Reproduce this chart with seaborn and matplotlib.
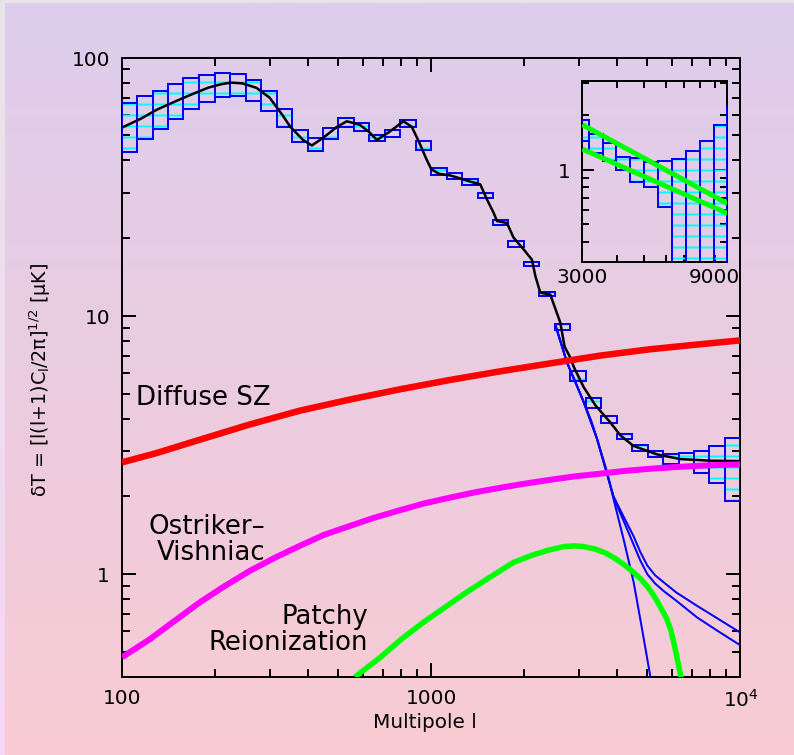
import numpy as np
import pandas as pd
import matplotlib
matplotlib.use("Agg")
import matplotlib.pyplot as plt
import seaborn as sns
from matplotlib.ticker import FixedLocator, FixedFormatter, NullFormatter, LogLocator

# ------------------------------------------------------------------ data
bin_edges = [100, 112, 126, 141, 158, 178, 200, 224, 251, 282, 316, 355, 398, 447,
             501, 562, 631, 708, 794, 891, 1000, 1122, 1259, 1413, 1585, 1778, 1995,
             2239, 2512, 2818, 3162, 3548, 3981, 4467, 5012, 5623, 6310, 7079, 7943,
             8913, 10000]
box_low = [43, 48.5, 53, 58, 63, 67.5, 70.5, 71, 68, 62, 54, 47, 43.5, 48.5, 54, 52,
           47.5, 49.5, 54, 44, 35, 34, 32, 28.5, 22.5, 18.5, 15.6, 11.9, 8.8, 5.6,
           4.4, 3.85, 3.35, 3.0, 2.85, 2.66, 2.59, 2.47, 2.26, 1.92]
box_high = [67, 71, 74.5, 79, 83.5, 86, 87, 86.5, 82, 74, 63, 52.5, 49, 53.5, 58.5, 56,
            50, 52.5, 57.5, 47.5, 37.5, 35.8, 33.8, 30, 23.6, 19.5, 16.2, 12.4, 9.3, 6.1,
            4.8, 4.1, 3.5, 3.15, 3.0, 2.91, 2.95, 3.0, 3.14, 3.38]

total_l = [100, 115, 130, 150, 170, 190, 210, 225, 245, 272, 300, 330, 350, 385, 411,
           448, 494, 533, 587, 630, 667, 731, 813, 865, 916, 960, 1000, 1060, 1150,
           1250, 1350, 1441, 1520, 1591, 1632, 1758, 1846, 1990, 2118, 2171, 2253,
           2427, 2616, 2700, 2800, 2900, 3112, 3400, 3796, 4090, 4504, 5375, 6395,
           8000, 10000]
total_T = [53.6, 58, 63, 68, 72.5, 76.5, 79, 80, 79.5, 76.4, 70, 60, 54, 48, 45.7,
           49, 53.8, 56.7, 55, 51.5, 48, 51.5, 56.7, 54, 46.8, 41, 37, 35.5, 35,
           34, 33, 32.3, 28, 25.1, 23.3, 22.9, 20.1, 18.1, 16.5, 14.3, 12.3,
           12.1, 9.41, 7.6, 7.0, 6.3, 5.3, 4.5, 3.87, 3.45, 3.14, 2.91, 2.79,
           2.75, 2.74]

sz_l = [100, 130, 179, 259, 377, 548, 794, 1151, 1670, 2427, 3524, 5117, 7430, 10000]
sz_T = [2.71, 2.95, 3.32, 3.80, 4.30, 4.75, 5.2, 5.65, 6.1, 6.55, 7.02, 7.43, 7.77, 8.04]

ov_l = [100, 123, 148, 179, 215, 259, 313, 377, 450, 548, 650, 794, 950, 1151, 1400,
        1670, 2000, 2427, 2900, 3524, 4200, 5117, 6200, 7430, 8700, 10000]
ov_T = [0.477, 0.56, 0.66, 0.78, 0.90, 1.03, 1.16, 1.29, 1.42, 1.54, 1.65, 1.77, 1.88,
        1.98, 2.08, 2.16, 2.24, 2.32, 2.39, 2.45, 2.51, 2.56, 2.60, 2.63, 2.65, 2.66]

patchy_l = [567, 684, 800, 950, 1125, 1300, 1500, 1845, 2100, 2400, 2700, 2891, 3100,
            3400, 3650, 3890, 4200, 4500, 4750, 4990, 5200, 5400, 5600, 5783, 5950,
            6100, 6250, 6395, 6500]
patchy_T = [0.40, 0.476, 0.56, 0.655, 0.754, 0.85, 0.95, 1.11, 1.18, 1.24, 1.28, 1.287,
            1.28, 1.25, 1.21, 1.16, 1.09, 1.02, 0.96, 0.90, 0.84, 0.78, 0.72, 0.67,
            0.61, 0.54, 0.47, 0.41, 0.37]

cmb_l = [2518, 2749, 2900, 3100, 3300, 3436, 3700, 3890, 4200, 4517, 4800, 5117, 5300]
cmb_T = [9.27, 6.6, 5.7, 4.7, 3.9, 3.35, 2.5, 1.95, 1.35, 0.93, 0.62, 0.40, 0.33]

lens_a_l = [2518, 2749, 3100, 3436, 3890, 4180, 4517, 4745, 5000, 5300, 5650, 6200,
            7244, 8500, 9860, 10000]
lens_a_T = [9.27, 6.6, 4.7, 3.35, 2.0, 1.68, 1.40, 1.22, 1.08, 0.99, 0.93, 0.85,
            0.754, 0.67, 0.60, 0.595]
lens_b_l = [2518, 2749, 3100, 3436, 3890, 4180, 4517, 4745, 5000, 5300, 5650, 6200,
            7244, 8500, 9860, 10000]
lens_b_T = [9.27, 6.6, 4.7, 3.35, 1.98, 1.62, 1.30, 1.13, 1.0, 0.92, 0.86, 0.79,
            0.68, 0.60, 0.536, 0.532]

inset_edges = [2818, 3162, 3548, 3981, 4467, 5012, 5623, 6310, 7079, 7943, 8913,
               10000, 11220]
inset_low = [1.44, 1.24, 1.12, 0.99, 0.85, 0.80, 0.62, 0.2, 0.2, 0.2, 0.2, 0.2]
inset_high = [1.89, 1.57, 1.41, 1.18, 1.16, 1.10, 1.12, 1.15, 1.26, 1.44, 1.77, 2.23]

inset_g1_l = [3000, 5500, 10000]
inset_g1_T = [1.77, 1.07, 0.65]
inset_g2_l = [3000, 5500, 10000]
inset_g2_T = [1.30, 0.86, 0.574]

# ------------------------------------------------------------------ style
DPI = 66
def px(v):
    return v * 72.0 / DPI

sns.set_theme(style="ticks")
plt.rcParams['font.family'] = ['DejaVu Sans']
plt.rcParams['mathtext.fontset'] = 'dejavusans'
plt.rcParams['hatch.linewidth'] = px(2)
for k in ['text.color', 'axes.labelcolor', 'xtick.color', 'ytick.color', 'axes.edgecolor']:
    plt.rcParams[k] = 'black'

fig = plt.figure(figsize=(794.4 / DPI, 755.4 / DPI), dpi=DPI)

# background gradient
H, W = 755, 794
t = np.linspace(0, 1, H)[:, None]
top_c = np.array([221, 205, 237]) / 255
bot_c = np.array([249, 203, 211]) / 255
grad = top_c * (1 - t) + bot_c * t
img = np.repeat(grad[:, None, :], W, axis=1)
lt = np.array([232, 228, 232]) / 255
lb = np.array([247, 213, 247]) / 255
img[:, :5, :] = (lt * (1 - t) + lb * t)[:, None, :]
img[:4, :, :] = np.array([230, 228, 230]) / 255
bg = fig.add_axes([0, 0, 1, 1], zorder=-10)
bg.imshow(img, aspect='auto', extent=[0, 1, 0, 1], origin='upper')
bg.axis('off')


def style_axes(a):
    a.set_facecolor('none')
    for s in a.spines.values():
        s.set_linewidth(px(2))
        s.set_color('black')


def draw_boxes(a, edges, lo, hi):
    e = np.array(edges, dtype=float)
    lo = np.array(lo, dtype=float)
    hi = np.array(hi, dtype=float)
    a.bar(e[:-1], hi - lo, width=e[1:] - e[:-1], bottom=lo, align='edge',
          facecolor='none', edgecolor='#00FFFF', hatch='-', linewidth=0, zorder=2)
    a.bar(e[:-1], hi - lo, width=e[1:] - e[:-1], bottom=lo, align='edge',
          facecolor='none', edgecolor='#0000FF', linewidth=px(2), zorder=3)


def line(a, l, T, color, lw, z):
    sns.lineplot(x=l, y=T, ax=a, color=color, linewidth=lw, zorder=z,
                 estimator=None, sort=False, solid_capstyle='butt')

# ------------------------------------------------------------------ main
ax = fig.add_axes([122 / 794, 1 - 677 / 755, 618 / 794, 619 / 755])
style_axes(ax)
ax.set_xscale('log')
ax.set_yscale('log')

draw_boxes(ax, bin_edges, box_low, box_high)
line(ax, cmb_l, cmb_T, '#0000FF', px(2), 4)
line(ax, lens_a_l, lens_a_T, '#0000FF', px(2), 4)
line(ax, lens_b_l, lens_b_T, '#0000FF', px(2), 4)
line(ax, total_l, total_T, 'black', px(2.5), 5)
line(ax, sz_l, sz_T, '#FF0000', px(6.5), 6)
line(ax, ov_l, ov_T, '#FF00FF', px(6), 6)
line(ax, patchy_l, patchy_T, '#00FF00', px(5.5), 6)

ax.set_xlim(100, 1e4)
ax.set_ylim(0.4, 100)
ax.xaxis.set_major_locator(FixedLocator([100, 1000, 10000]))
ax.xaxis.set_major_formatter(FixedFormatter(['100', '1000', '10$^{4}$']))
ax.xaxis.set_minor_locator(LogLocator(base=10, subs=np.arange(2, 10)))
ax.xaxis.set_minor_formatter(NullFormatter())
ax.yaxis.set_major_locator(FixedLocator([1, 10, 100]))
ax.yaxis.set_major_formatter(FixedFormatter(['1', '10', '100']))
ax.yaxis.set_minor_locator(LogLocator(base=10, subs=np.arange(2, 10)))
ax.yaxis.set_minor_formatter(NullFormatter())
ax.tick_params(which='both', direction='in', top=True, right=True, width=px(2),
               labelsize=px(20), pad=px(12))
ax.tick_params(which='major', length=px(14))
ax.tick_params(which='minor', length=px(8))

ax.set_xlabel('Multipole l', fontsize=px(20))
ax.xaxis.set_label_coords(0.49, -0.058)
ax.set_ylabel('δT = [l(l+1)C$_\\mathrm{l}$/2π]$^{1/2}$ [μK]', fontsize=px(19))
ax.yaxis.set_label_coords(-0.112, 0.48)

txt_kw = dict(transform=ax.transAxes, fontsize=px(26), linespacing=1.0, zorder=7)
ax.text(0.022, 0.4515, 'Diffuse SZ', ha='left', va='center', **txt_kw)
ax.text(0.232, 0.222, 'Ostriker\u2013\nVishniac', ha='right', va='center',
        multialignment='right', **txt_kw)
ax.text(0.398, 0.076, 'Patchy\nReionization', ha='right', va='center',
        multialignment='right', **txt_kw)

# ------------------------------------------------------------------ inset
axi = fig.add_axes([582 / 794, 1 - 262 / 755, 145 / 794, 181 / 755])
style_axes(axi)
axi.set_xscale('log')
axi.set_yscale('log')
draw_boxes(axi, inset_edges, inset_low, inset_high)
line(axi, inset_g1_l, inset_g1_T, '#00FF00', px(5), 6)
line(axi, inset_g2_l, inset_g2_T, '#00FF00', px(5), 6)
axi.set_xlim(3000, 10000)
axi.set_ylim(0.31, 3.1)
axi.xaxis.set_major_locator(FixedLocator([3000, 9000]))
axi.xaxis.set_major_formatter(FixedFormatter(['3000', '9000']))
axi.xaxis.set_minor_locator(FixedLocator([4000, 5000, 6000, 7000, 8000]))
axi.xaxis.set_minor_formatter(NullFormatter())
axi.yaxis.set_major_locator(FixedLocator([1]))
axi.yaxis.set_major_formatter(FixedFormatter(['1']))
axi.yaxis.set_minor_locator(LogLocator(base=10, subs=np.arange(2, 10)))
axi.yaxis.set_minor_formatter(NullFormatter())
axi.tick_params(which='both', direction='in', top=True, right=True, width=px(2),
                labelsize=px(20), length=px(7))
axi.tick_params(axis='y', which='major', length=px(12), pad=px(12))
axi.tick_params(axis='x', which='major', pad=px(6))
axi.set_xlabel('')
axi.set_ylabel('')

fig.savefig('out.png', dpi=DPI)
